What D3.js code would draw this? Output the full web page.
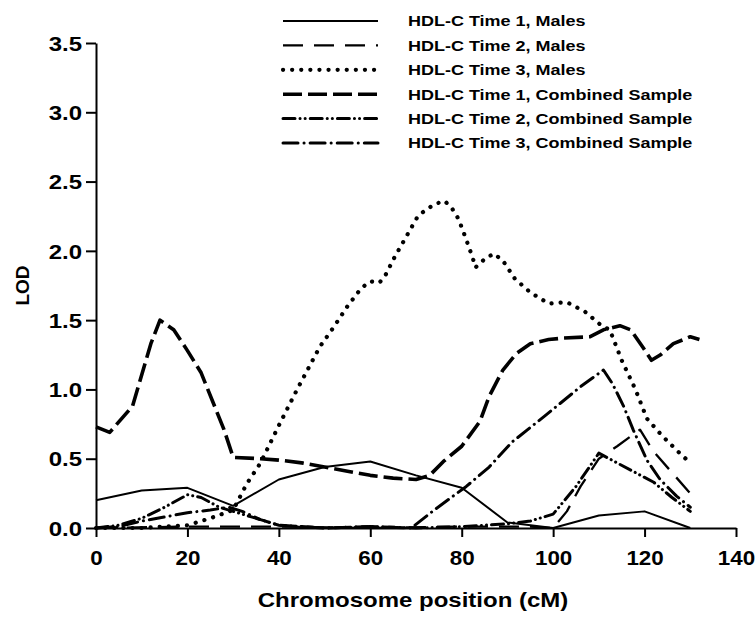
<!DOCTYPE html>
<html>
<head>
<meta http-equiv="Content-Type" content="text/html;charset=utf-8">
<script type="text/javascript" src="https://d3js.org/d3.v7.min.js"></script>
<style>
  body { margin: 0; background: #fff; }
  text { font-family: "Liberation Sans", Arial, sans-serif; font-weight: bold; fill: #000; }
</style>
</head>
<body>
<div id="chart"></div>
<script type="text/javascript">

// series: [position cM, LOD]
var time1Males = [[0,0.20],[10,0.27],[20,0.29],[30,0.16],[40,0.35],[50,0.44],[60,0.48],[70,0.38],[80,0.29],[90,0.04],[100,0.0],[110,0.09],[120,0.12],[130,0.0]];

var time2Males = [[0,0],[20,0.01],[40,0.01],[60,0.0],[80,0.01],[95,0.01],[100,0.0],[103,0.12],[106,0.3],[110,0.5],[114,0.59],[119,0.71],[122,0.55],[126,0.4],[130,0.25]];

var time3Males = [[0,0],[10,0],[20,0.02],[25,0.07],[30,0.13],[33,0.32],[36,0.47],[40,0.74],[44,1.0],[49,1.31],[52,1.45],[55,1.6],[58,1.73],[60,1.78],[62,1.77],[63.4,1.83],[65.4,1.96],[68,2.11],[70.4,2.25],[72.3,2.3],[74.3,2.34],[76.3,2.36],[78,2.3],[79.3,2.23],[80.9,2.09],[82.4,1.95],[83,1.88],[85,1.94],[87,1.98],[89,1.93],[91.6,1.8],[95,1.7],[99,1.62],[103,1.63],[107,1.56],[110.6,1.46],[112.4,1.43],[115,1.21],[118,1.0],[120.5,0.79],[124,0.66],[128,0.53],[130,0.47]];

var time1Combined = [[0,0.73],[3,0.69],[8,0.88],[12,1.33],[14,1.5],[17,1.43],[20,1.28],[23,1.12],[28,0.71],[30,0.51],[36,0.5],[40,0.49],[45,0.47],[50,0.44],[55,0.41],[60,0.38],[65,0.36],[70,0.35],[73,0.38],[76,0.48],[80,0.59],[84,0.77],[86,0.95],[89,1.14],[92,1.26],[95,1.33],[99,1.36],[102,1.37],[108,1.38],[111,1.43],[114.6,1.46],[117,1.43],[119.7,1.3],[121.5,1.21],[123.5,1.25],[126.3,1.33],[130,1.38],[132,1.36]];

var time2Combined = [[0,0],[5,0.02],[10,0.07],[15,0.15],[20,0.24],[23,0.22],[27,0.15],[30,0.12],[34,0.08],[40,0.02],[50,0],[60,0.01],[70,0],[80,0.01],[90,0.03],[95,0.05],[100,0.1],[105,0.3],[110,0.54],[114,0.47],[118,0.4],[122,0.33],[126,0.22],[130,0.12]];

var time3Combined = [[0,0],[5,0.01],[10,0.05],[15,0.08],[20,0.11],[25,0.13],[29,0.15],[32,0.12],[36,0.06],[40,0.02],[50,0],[60,0.01],[69,0],[74,0.13],[81,0.3],[86,0.44],[91,0.62],[98.6,0.82],[106,1.02],[111,1.14],[113,1.04],[115.4,0.88],[117.5,0.71],[120.5,0.49],[123.4,0.35],[127,0.23],[130,0.15]];

var seriesNames = ["HDL-C Time 1, Males", "HDL-C Time 2, Males", "HDL-C Time 3, Males",
                   "HDL-C Time 1, Combined Sample", "HDL-C Time 2, Combined Sample", "HDL-C Time 3, Combined Sample"];
var seriesData = [time1Males, time2Males, time3Males, time1Combined, time2Combined, time3Combined];

var xTicks = [0, 20, 40, 60, 80, 100, 120, 140];
var yTicks = [0, 0.5, 1, 1.5, 2, 2.5, 3, 3.5];

// line styles per series
var styles = [
  {w: 2,   dash: null,               cap: "butt"},
  {w: 2.3, dash: "20 11",            cap: "butt"},
  {w: 4.2, dash: "0.1 9",            cap: "round"},
  {w: 3.6, dash: "19 6",             cap: "butt"},
  {w: 3,   dash: "12 5 0.1 5 0.1 5", cap: "round"},
  {w: 3,   dash: "15 6 0.1 6",       cap: "round"}
];

var width = 755, height = 620;
var stretch = 1.2;

var svg = d3.select("#chart").append("svg")
    .attr("width", width)
    .attr("height", height);

var x = d3.scaleLinear().domain([0, 140]).range([96, 736]);
var y = d3.scaleLinear().domain([0, 3.5]).range([528, 43]);

var line = d3.line()
    .x(function(d) { return x(d[0]); })
    .y(function(d) { return y(d[1]); });

// lines
svg.append("g")
  .selectAll("path")
  .data(seriesData)
  .enter().append("path")
    .attr("d", line)
    .attr("fill", "none")
    .attr("stroke", "#000")
    .attr("stroke-width", function(d, i) { return styles[i].w; })
    .attr("stroke-dasharray", function(d, i) { return styles[i].dash; })
    .attr("stroke-linecap", function(d, i) { return styles[i].cap; })
    .attr("stroke-linejoin", "round");

// axes
var xAxis = svg.append("g")
    .attr("transform", "translate(0," + y(0) + ")")
    .call(d3.axisBottom(x).tickValues(xTicks).tickSize(9).tickSizeOuter(0).tickFormat(d3.format("d")));

var yAxis = svg.append("g")
    .attr("transform", "translate(" + x(0) + ",0)")
    .call(d3.axisLeft(y).tickValues(yTicks).tickSize(10).tickSizeOuter(0).tickFormat(d3.format(".1f")));

svg.selectAll(".domain, .tick line")
    .attr("stroke", "#000")
    .attr("stroke-width", 2);

xAxis.selectAll("text")
    .attr("y", 37)
    .attr("dy", null)
    .attr("font-size", 20)
    .attr("transform", "scale(1.12,1)");

yAxis.selectAll("text")
    .attr("x", -14 / stretch)
    .attr("dy", "0.36em")
    .attr("font-size", 20)
    .attr("transform", "scale(" + stretch + ",1)");

// axis titles
svg.append("text")
    .attr("transform", "translate(" + (x(70) - 3) + ",607) scale(" + stretch + ",1)")
    .attr("text-anchor", "middle")
    .attr("font-size", 20)
    .text("Chromosome position (cM)");

svg.append("text")
    .attr("transform", "translate(29," + y(1.75) + ") rotate(-90)")
    .attr("text-anchor", "middle")
    .attr("font-size", 19)
    .text("LOD");

// legend
var legend = svg.append("g").selectAll("g")
    .data(seriesNames)
    .enter().append("g")
    .attr("transform", function(d, i) { return "translate(283," + (21 + i * 24.4) + ")"; });

legend.append("line")
    .attr("x1", 0).attr("x2", 95)
    .attr("stroke", "#000")
    .attr("stroke-width", function(d, i) { return styles[i].w; })
    .attr("stroke-dasharray", function(d, i) { return styles[i].dash; })
    .attr("stroke-linecap", function(d, i) { return styles[i].cap; });

legend.append("text")
    .attr("transform", "translate(125,0) scale(" + stretch + ",1)")
    .attr("dy", "0.36em")
    .attr("font-size", 15)
    .text(function(d) { return d; });

</script>
</body>
</html>
